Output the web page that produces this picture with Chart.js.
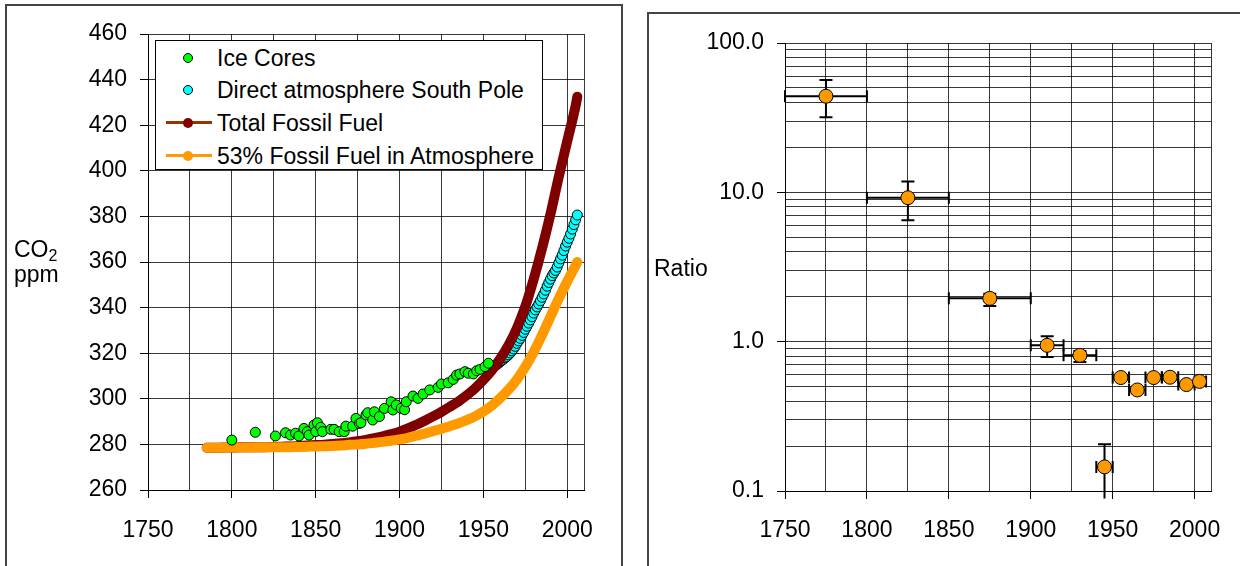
<!DOCTYPE html>
<html lang="en">
<head>
<meta charset="UTF-8" />
<title>CO2 and fossil fuel</title>
<script src="https://cdn.jsdelivr.net/npm/chart.js@4.4.1/dist/chart.umd.min.js"></script>
<style>
  body { margin: 0; width: 1240px; height: 566px; overflow: hidden; background: #fff;
         font-family: "Liberation Sans", Arial, sans-serif; color: #000; position: relative; }
  .panel { position: absolute; border: 2px solid #444; }
  #leftPanel { left: 5px; top: 4px; width: 614px; height: 640px; }
  #rightPanel { left: 647px; top: 12px; width: 700px; height: 640px; }
  canvas { position: absolute; top: 0; }
  #co2Chart { left: 0; }
  #ratioChart { left: 620px; }
  .axisTitle { position: absolute; font-size: 23px; line-height: 23px; white-space: nowrap; }
  .axisTitle sub { font-size: 16px; vertical-align: -4px; line-height: 0; }
  #legend { position: absolute; left: 155px; top: 40px; width: 386px; height: 128px;
            border: 1px solid #000; background: #fff; }
  #legend .row { position: absolute; left: 0; height: 26px; line-height: 26px; font-size: 23px; white-space: nowrap; }
  #legend .row span.txt { position: absolute; left: 61px; top: 0; }
  #legend .line { position: absolute; left: 10px; top: 11px; width: 46px; height: 3px; }
  #legend .dot { position: absolute; left: 27px; top: 8px; width: 8px; height: 8px; border-radius: 50%; border: 1px solid #000; }
  #legend .dot.fill { border: none; width: 10px; height: 10px; left: 27px; top: 8px; }
</style>
</head>
<body>
<div class="panel" id="leftPanel"></div>
<div class="panel" id="rightPanel"></div>
<canvas id="co2Chart" width="620" height="566"></canvas>
<canvas id="ratioChart" width="620" height="566"></canvas>
<div class="axisTitle" style="left:14px; top:238px;">CO<sub>2</sub></div>
<div class="axisTitle" style="left:14px; top:263px;">ppm</div>
<div class="axisTitle" style="left:654px; top:257px;">Ratio</div>
<div id="legend"></div>

<script>
  // ice core CO2 (ppm)
  const iceYears = [1800, 1814, 1826, 1832, 1835, 1838, 1840, 1843, 1845, 1846,
                    1849, 1850, 1851, 1853, 1854, 1859, 1861, 1864, 1867, 1868,
                    1872, 1874, 1876, 1877, 1880, 1881, 1884, 1885, 1888, 1891,
                    1895, 1896, 1898, 1901, 1903, 1904, 1908, 1911, 1914, 1918,
                    1923, 1925, 1929, 1932, 1934, 1936, 1939, 1941, 1944, 1946,
                    1948, 1951, 1953]
  const iceCo2 = [281.9, 285.3, 283.7, 285.1, 284.1, 284.9, 283.7, 287.0, 285.6, 284.1,
                  288.5, 285.6, 289.5, 287.5, 285.6, 286.6, 286.6, 285.6, 285.6, 288.0,
                  288.0, 291.4, 289.2, 289.5, 292.9, 293.9, 290.7, 294.3, 292.2, 295.8,
                  298.7, 295.1, 297.3, 295.8, 295.2, 298.7, 301.2, 300.2, 302.1, 303.9,
                  305.0, 306.5, 307.0, 308.5, 310.4, 310.9, 311.9, 311.2, 310.9, 312.3,
                  312.9, 314.1, 315.6]

  // direct measurements, South Pole, annual means
  const poleYears = [1957, 1958, 1959, 1960, 1961, 1962, 1963, 1964, 1965, 1966,
                     1967, 1968, 1969, 1970, 1971, 1972, 1973, 1974, 1975, 1976,
                     1977, 1978, 1979, 1980, 1981, 1982, 1983, 1984, 1985, 1986,
                     1987, 1988, 1989, 1990, 1991, 1992, 1993, 1994, 1995, 1996,
                     1997, 1998, 1999, 2000, 2001, 2002, 2003, 2004, 2005, 2006]
  const poleCo2 = [314.5, 315.0, 315.6, 316.2, 316.8, 317.4, 318.0, 318.6, 319.3, 320.1,
                   321.0, 321.9, 323.0, 324.3, 325.4, 326.5, 327.8, 329.1, 330.5, 331.8,
                   333.2, 334.6, 336.0, 337.6, 339.0, 340.3, 341.6, 343.0, 344.5, 346.0,
                   347.6, 349.4, 351.0, 352.5, 354.0, 355.2, 356.3, 357.8, 359.6, 361.4,
                   363.0, 365.0, 367.0, 368.7, 370.4, 372.3, 374.4, 376.4, 378.5, 380.6]

  // fossil fuel CO2 added on top of the pre-industrial level
  const fuelYears = [1785, 1790, 1795, 1800, 1805, 1810, 1815, 1820, 1825, 1830,
                     1835, 1840, 1845, 1850, 1855, 1860, 1865, 1870, 1875, 1880,
                     1885, 1890, 1895, 1900, 1905, 1910, 1915, 1920, 1925, 1930,
                     1935, 1940, 1945, 1950, 1955, 1960, 1965, 1970, 1975, 1980,
                     1985, 1990, 1995, 2000, 2005, 2006]
  const totalFuel = [278.5, 278.5, 278.6, 278.6, 278.7, 278.7, 278.8, 278.8, 278.9, 279.0,
                     279.1, 279.3, 279.5, 279.7, 279.9, 280.2, 280.5, 280.9, 281.4, 282.0,
                     282.7, 283.5, 284.5, 285.6, 287.0, 288.6, 290.4, 292.3, 294.3, 296.5,
                     298.8, 301.5, 304.6, 308.3, 312.5, 317.5, 323.5, 331.0, 340.5, 352.5,
                     366.0, 381.0, 397.5, 413.0, 428.5, 432.5]
  const fuelInAir = [278.5, 278.5, 278.6, 278.6, 278.6, 278.6, 278.7, 278.7, 278.7, 278.8,
                     278.8, 278.9, 279.0, 279.1, 279.2, 279.3, 279.5, 279.8, 280.0, 280.3,
                     280.7, 281.1, 281.6, 282.2, 282.9, 283.8, 284.7, 285.8, 286.8, 288.0,
                     289.2, 290.6, 292.3, 294.4, 297.0, 300.3, 304.0, 308.5, 314.0, 320.5,
                     328.0, 336.0, 344.0, 351.5, 358.5, 360.0]

  // ratio per period, with period bounds and uncertainty
  const ratioYears  = [1775, 1825, 1875, 1910, 1930, 1945, 1955, 1965, 1975, 1985, 1995, 2003]
  const ratioValues = [44.0, 9.2, 1.95, 0.945, 0.81, 0.145, 0.575, 0.475, 0.575, 0.578, 0.516, 0.542]
  const periodStart = [1750, 1800, 1850, 1900, 1920, 1940, 1950, 1960, 1970, 1980, 1990, 2000]
  const periodEnd   = [1800, 1850, 1900, 1920, 1940, 1950, 1960, 1970, 1980, 1990, 2000, 2007]
  const ratioLow    = [31.8, 6.5, 1.73, 0.79, 0.73, 0.089, 0.555, 0.455, 0.555, 0.558, 0.498, 0.523]
  const ratioHigh   = [56.5, 11.8, 2.09, 1.086, 0.867, 0.206, 0.595, 0.495, 0.595, 0.598, 0.535, 0.562]

  const yearTicks = [1750, 1775, 1800, 1825, 1850, 1875, 1900, 1925, 1950, 1975, 2000, 2010]
  const ratioTicks = [0.1, 0.2, 0.3, 0.4, 0.5, 0.6, 0.7, 0.8, 0.9,
                      1, 2, 3, 4, 5, 6, 7, 8, 9,
                      10, 20, 30, 40, 50, 60, 70, 80, 90, 100]
  const ratioLabels = { 0.1: '0.1', 1: '1.0', 10: '10.0', 100: '100.0' }

  const seriesLabels = ['Ice Cores', 'Direct atmosphere South Pole', 'Total Fossil Fuel', '53% Fossil Fuel in Atmosphere']

  const font = { family: 'Liberation Sans, Arial, sans-serif', size: 23 }
  const gridColor = 'rgba(0,0,0,0.78)'
  const pts = (xs, ys) => xs.map((x, i) => ({ x, y: ys[i] }))

  const yearAxis = (labelPad) => ({
    type: 'linear', min: 1750, max: 2010,
    afterBuildTicks: s => { s.ticks = yearTicks.map(v => ({ value: v })) },
    ticks: { autoSkip: false, maxRotation: 0, padding: labelPad, color: '#000', font,
             callback: v => (v % 50 === 0 ? String(v) : '') },
    grid: { color: gridColor, lineWidth: 1, tickLength: 8,
            tickColor: c => (c.tick && c.tick.value % 50 === 0 ? '#000' : 'rgba(0,0,0,0)') },
    border: { color: '#000', width: 1 }
  })

  new Chart(document.getElementById('co2Chart'), {
    type: 'scatter',
    data: {
      datasets: [
        { label: seriesLabels[0], data: pts(iceYears, iceCo2), order: 0,
          backgroundColor: '#00ff00', borderColor: '#000', borderWidth: 1, pointRadius: 5 },
        { label: seriesLabels[1], data: pts(poleYears, poleCo2), order: 3,
          backgroundColor: '#00ffff', borderColor: '#000', borderWidth: 1, pointRadius: 5 },
        { label: seriesLabels[2], data: pts(fuelYears, totalFuel), order: 2, showLine: true,
          borderColor: '#800000', backgroundColor: '#800000', borderWidth: 10, pointRadius: 0,
          cubicInterpolationMode: 'monotone', borderCapStyle: 'round', borderJoinStyle: 'round' },
        { label: seriesLabels[3], data: pts(fuelYears, fuelInAir), order: 1, showLine: true,
          borderColor: '#ff9900', backgroundColor: '#ff9900', borderWidth: 10, pointRadius: 0,
          cubicInterpolationMode: 'monotone', borderCapStyle: 'round', borderJoinStyle: 'round' }
      ]
    },
    options: {
      animation: false, responsive: false, devicePixelRatio: 1,
      layout: { padding: { top: 34, right: 36, left: 0, bottom: 0 } },
      plugins: { legend: { display: false }, tooltip: { enabled: false } },
      scales: {
        x: Object.assign(yearAxis(19), { afterFit: s => { s.height = 76 } }),
        y: {
          min: 260, max: 460,
          afterFit: s => { s.width = 148 },
          ticks: { stepSize: 20, padding: 13, color: '#000', font },
          grid: { color: gridColor, lineWidth: 1, tickLength: 8, tickColor: '#000' },
          border: { color: '#000', width: 1 }
        }
      }
    }
  })

  // horizontal and vertical whiskers, drawn under the markers
  const errorBars = {
    id: 'errorBars',
    beforeDatasetsDraw(chart) {
      const { ctx, scales: { x, y } } = chart
      ctx.save()
      ctx.strokeStyle = '#000'
      ctx.lineWidth = 2
      ratioYears.forEach((yr, i) => {
        const px = x.getPixelForValue(yr)
        const py = y.getPixelForValue(ratioValues[i])
        const x0 = x.getPixelForValue(periodStart[i])
        const x1 = x.getPixelForValue(periodEnd[i])
        const yHi = y.getPixelForValue(ratioHigh[i])
        const yLo = y.getPixelForValue(ratioLow[i])
        ctx.beginPath()
        ctx.moveTo(x0, py); ctx.lineTo(x1, py)
        ctx.moveTo(x0, py - 6); ctx.lineTo(x0, py + 6)
        ctx.moveTo(x1, py - 6); ctx.lineTo(x1, py + 6)
        ctx.moveTo(px, yHi); ctx.lineTo(px, yLo)
        ctx.moveTo(px - 6.5, yHi); ctx.lineTo(px + 6.5, yHi)
        if (yLo <= y.bottom) { ctx.moveTo(px - 6.5, yLo); ctx.lineTo(px + 6.5, yLo) }
        ctx.stroke()
      })
      ctx.restore()
    }
  }

  new Chart(document.getElementById('ratioChart'), {
    type: 'scatter',
    data: {
      datasets: [
        { label: 'Ratio', data: pts(ratioYears, ratioValues),
          backgroundColor: '#ff9900', borderColor: '#000', borderWidth: 1, pointRadius: 7 }
      ]
    },
    options: {
      animation: false, responsive: false, devicePixelRatio: 1,
      layout: { padding: { top: 43, right: 29, left: 0, bottom: 0 } },
      plugins: { legend: { display: false }, tooltip: { enabled: false } },
      scales: {
        x: Object.assign(yearAxis(18), { afterFit: s => { s.height = 75 } }),
        y: {
          type: 'logarithmic', min: 0.1, max: 100,
          afterFit: s => { s.width = 165 },
          afterBuildTicks: s => { s.ticks = ratioTicks.map(v => ({ value: v })) },
          ticks: { autoSkip: false, padding: 13, color: '#000', font,
                   callback: v => ratioLabels[v] || '' },
          grid: { color: gridColor, lineWidth: 1, tickLength: 8,
                  tickColor: c => (c.tick && ratioLabels[c.tick.value] ? '#000' : 'rgba(0,0,0,0)') },
          border: { color: '#000', width: 1 }
        }
      }
    },
    plugins: [errorBars]
  })

  // legend box inside the left plot
  const legendStyles = [
    { dot: '#00ff00' },
    { dot: '#00ffff' },
    { dot: '#800000', line: '#993300' },
    { dot: '#ff9900', line: '#ff9900' }
  ]
  const legendRows = [4, 36, 69, 102]
  const legend = document.getElementById('legend')
  seriesLabels.forEach((text, i) => {
    const st = legendStyles[i]
    const row = document.createElement('div')
    row.className = 'row'
    row.style.top = legendRows[i] + 'px'
    row.style.width = '100%'
    if (st.line) {
      const ln = document.createElement('div')
      ln.className = 'line'
      ln.style.background = st.line
      row.appendChild(ln)
    }
    const dot = document.createElement('div')
    dot.className = st.line ? 'dot fill' : 'dot'
    dot.style.background = st.dot
    row.appendChild(dot)
    const label = document.createElement('span')
    label.className = 'txt'
    label.textContent = text
    row.appendChild(label)
    legend.appendChild(row)
  })
</script>
</body>
</html>
